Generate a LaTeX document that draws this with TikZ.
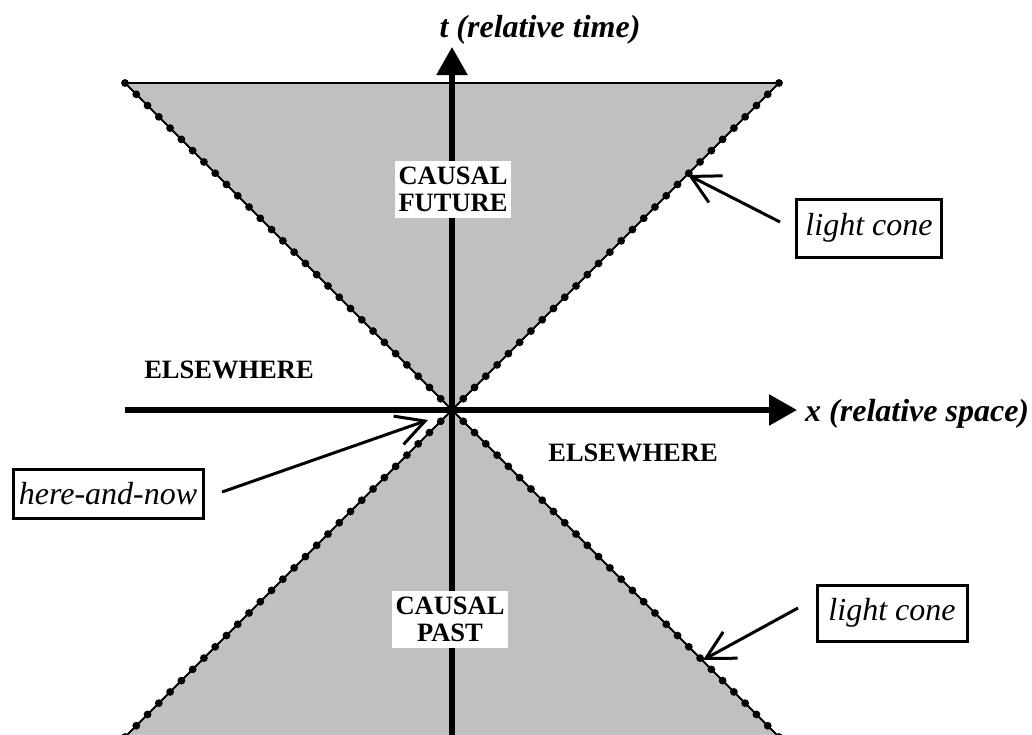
\documentclass[tikz,border=0pt]{standalone}
\usepackage{fontspec}
\setmainfont{Liberation Serif}
\usetikzlibrary{arrows.meta,calc}
\definecolor{coneGray}{RGB}{192,192,192}
\begin{document}
\begin{tikzpicture}[x=1pt,y=-1pt,
  coneline/.style={line width=2pt},
  axisarrow/.style={line width=5.5pt,-{Triangle[length=28pt,width=30pt]}},
  labelbox/.style={draw,line width=3pt,inner sep=0pt,font=\fontsize{32}{34}\selectfont\itshape},
  callout/.style={line width=3pt,-{Straight Barb[length=28pt,width=30pt]}},
  region/.style={font=\fontsize{26.5}{27}\selectfont\bfseries},
  axislabel/.style={inner sep=0pt,font=\fontsize{32}{34}\selectfont\bfseries\itshape}
]
\useasboundingbox (0,0) rectangle (1032,734);
\clip (0,0) rectangle (1032,734);

% cone geometry
\coordinate (O) at (452,410);
\coordinate (TL) at (125,83);
\coordinate (TR) at (779,83);
\coordinate (BL) at (92,770);
\coordinate (BR) at (812,770);

\fill[coneGray] (TL) -- (TR) -- (O) -- cycle;
\fill[coneGray] (O) -- (BL) -- (BR) -- cycle;
\draw[coneline] (TL) -- (TR);
\draw[coneline] (TL) -- (BR);
\draw[coneline] (TR) -- (BL);
\foreach \k in {0,...,29}{
  \fill ($(O)+(-\k*11.276,-\k*11.276)$) circle (3.9);
  \fill ($(O)+(\k*11.276,-\k*11.276)$) circle (3.9);
  \fill ($(O)+(-\k*11.276,\k*11.276)$) circle (3.9);
  \fill ($(O)+(\k*11.276,\k*11.276)$) circle (3.9);
}

% axes
\coordinate (tbot) at (452,745);
\coordinate (ttop) at (452,47);
\coordinate (xleft) at (125,410);
\coordinate (xright) at (797,410);
\draw[axisarrow] (tbot) -- (ttop);
\draw[axisarrow] (xleft) -- (xright);

\node[axislabel,anchor=base] (tlab) at (540,37.5) {t (relative time)};
\node[axislabel,anchor=base west] (xlab) at (805,421) {x (relative space)};

% region labels
\node[region,fill=white,align=center,inner sep=0pt,minimum width=116pt,minimum height=57pt] (fut) at (453,189.5) {CAUSAL\\FUTURE};
\node[region,fill=white,align=center,inner sep=0pt,minimum width=116pt,minimum height=57pt] (past) at (450,619.5) {CAUSAL\\PAST};
\node[region] (elseL) at (229,370) {ELSEWHERE};
\node[region] (elseR) at (633,453) {ELSEWHERE};

% callout boxes
\node[labelbox,minimum width=145pt,minimum height=58pt] (lc1) at (869,228) {light cone};
\node[labelbox,minimum width=150pt,minimum height=56pt] (lc2) at (892,613) {light cone};
\node[labelbox,minimum width=190pt,minimum height=49pt] (hn) at (108,494) {here-and-now};

% callout arrows
\coordinate (a1s) at ($(lc1.west)+(-15,-6)$);
\coordinate (a1e) at (688,175);
\coordinate (a2s) at ($(lc2.west)+(-17.5,-5)$);
\coordinate (a2e) at (703,660);
\coordinate (a3s) at ($(hn.east)+(17.5,-2)$);
\coordinate (a3e) at (428,420);
\draw[callout] (a1s) -- (a1e);
\draw[callout] (a2s) -- (a2e);
\draw[callout] (a3s) -- (a3e);
\end{tikzpicture}
\end{document}
